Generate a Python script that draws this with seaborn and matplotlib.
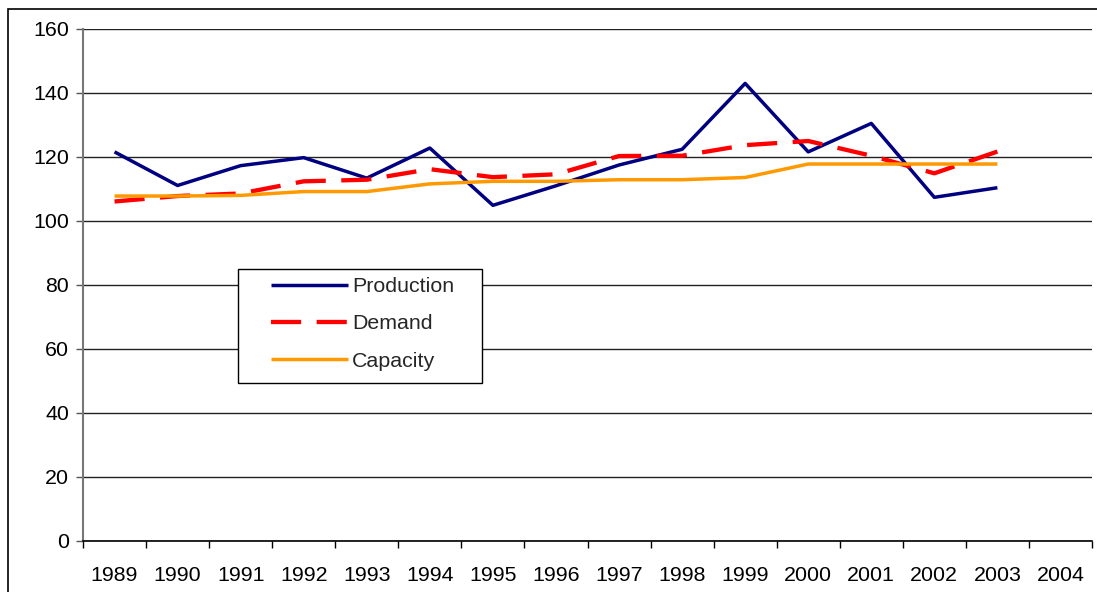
import numpy as np
import pandas as pd
import matplotlib
matplotlib.use("Agg")
import matplotlib.pyplot as plt
from matplotlib.patches import Rectangle
from matplotlib.ticker import FixedLocator, NullFormatter
import seaborn as sns

# ---- data ----
years = [1989, 1990, 1991, 1992, 1993, 1994, 1995, 1996, 1997, 1998, 1999, 2000, 2001, 2002, 2003]
axis_years = [1989, 1990, 1991, 1992, 1993, 1994, 1995, 1996, 1997, 1998, 1999, 2000, 2001, 2002, 2003, 2004]
production = [121.6, 111.1, 117.3, 119.8, 113.4, 122.8, 104.9, 111.0, 117.5, 122.4, 143.0, 121.6, 130.5, 107.4, 110.4]
demand = [106.1, 107.8, 108.6, 112.4, 112.9, 116.2, 113.7, 114.6, 120.3, 120.4, 123.7, 125.0, 120.4, 114.9, 121.7]
capacity = [107.8, 107.8, 108.0, 109.2, 109.2, 111.6, 112.4, 112.4, 112.9, 112.9, 113.6, 117.8, 117.8, 117.8, 117.8]
series_names = ["Production", "Demand", "Capacity"]
y_ticks = [0, 20, 40, 60, 80, 100, 120, 140, 160]

df = pd.DataFrame({
    "Year": years * 3,
    "Value": production + demand + capacity,
    "Series": [series_names[0]] * len(years) + [series_names[1]] * len(years) + [series_names[2]] * len(years),
})

sns.set_theme(style="white")
plt.rcParams["font.family"] = ["Liberation Sans", "DejaVu Sans"]

FS = 15.4
W, H = 1097, 592
fig = plt.figure(figsize=(W / 100, H / 100), dpi=100)
ax = fig.add_axes([83 / W, 1 - 541 / H, 1009 / W, 512 / H])

palette = {"Production": "#000080", "Demand": "#FF0000", "Capacity": "#FF9900"}
sns.lineplot(data=df, x="Year", y="Value", hue="Series", style="Series",
             palette=palette, dashes={"Production": "", "Demand": (7, 3.6), "Capacity": ""},
             hue_order=series_names, style_order=series_names, ax=ax, legend=False)
lws = {"Production": 2.5, "Demand": 3.1, "Capacity": 2.5}
for line, name in zip(ax.get_lines(), series_names):
    line.set_linewidth(lws[name])
    line.set_solid_capstyle("butt")
    line.set_dash_capstyle("butt")
    line.set_label(name)

ax.set_xlim(axis_years[0] - 0.5, axis_years[-1] + 0.5)
ax.set_ylim(0, 160)
ax.set_yticks(y_ticks)
ax.set_yticklabels([str(v) for v in y_ticks], fontsize=FS)
ax.set_xticks(axis_years)
ax.set_xticklabels([str(y) for y in axis_years], fontsize=FS)
ax.xaxis.set_minor_locator(FixedLocator([y - 0.5 for y in axis_years] + [axis_years[-1] + 0.5]))
ax.xaxis.set_minor_formatter(NullFormatter())
ax.tick_params(axis="x", which="major", length=0, pad=18, colors="black")
ax.tick_params(axis="x", which="minor", length=5, width=1, color="black", direction="out", bottom=True)
ax.tick_params(axis="y", which="major", length=5, width=1, color="#555555", direction="out", left=True, pad=5, labelcolor="black")
ax.set_xlabel("")
ax.set_ylabel("")

ax.grid(axis="y", color="#222222", linewidth=1.0)
ax.grid(axis="x", visible=False)
ax.set_axisbelow(True)
for s in ["top", "right"]:
    ax.spines[s].set_visible(False)
ax.spines["left"].set_color("#777777")
ax.spines["left"].set_linewidth(1.5)
ax.spines["bottom"].set_color("black")
ax.spines["bottom"].set_linewidth(1.2)

# legend box drawn as a rectangle, legend entries placed inside it
box = Rectangle(((238 - 83) / 1009, (541 - 383) / 512), (482 - 238) / 1009, (383 - 269) / 512,
                transform=ax.transAxes, facecolor="white", edgecolor="black", linewidth=1.0, zorder=4)
ax.add_patch(box)
leg = ax.legend(loc="upper left", bbox_to_anchor=((271 - 83) / 1009, (541 - 277) / 512),
                borderaxespad=0, fontsize=FS, handlelength=3.6, handletextpad=0.2,
                labelspacing=0.86, borderpad=0.0, frameon=False)
leg.set_zorder(5)

# outer frame of the chart area
fig.patches.append(Rectangle((8 / W, -0.5), 2.0, (1 - 9 / H) + 0.5, transform=fig.transFigure,
                             fill=False, edgecolor="black", linewidth=1.2))

fig.savefig("out.png", dpi=100, facecolor="white")
